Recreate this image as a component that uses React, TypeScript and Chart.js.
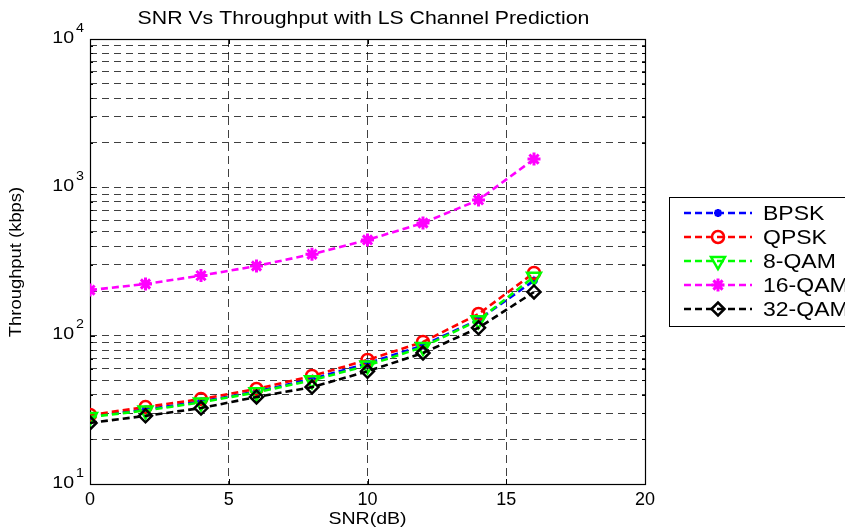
import { useEffect, useRef } from 'react';
import { Chart, registerables } from 'chart.js';
import { drawPoint } from 'chart.js/helpers';

Chart.register(...registerables);

const snr = [0, 2, 4, 6, 8, 10, 12, 14, 16];
const bpsk = [28.5, 31.8, 36, 42, 51, 65, 86, 128, 235];
const qpsk = [29.2, 33, 37.4, 43.7, 53.5, 68.6, 90.7, 140, 265];
const qam8 = [28.3, 31.3, 35.5, 41.5, 50, 63, 84, 127, 250];
const qam16 = [203, 223, 254, 295, 354, 442, 575, 822, 1550];
const qam32 = [25.8, 28.8, 32.5, 38.6, 45, 57.5, 76.4, 113, 197];
const seriesNames = ['BPSK', 'QPSK', '8-QAM', '16-QAM', '32-QAM'];
const xTickValues = [0, 5, 10, 15, 20];
const yMajorTicks = [10, 100, 1000, 10000];
const yTickBase = '10';
const yTickExponents = ['1', '2', '3', '4'];
const titleText = 'SNR Vs Throughput with LS Channel Prediction';
const xTitle = 'SNR(dB)';
const yTitle = 'Throughput (kbps)';

const FONT = "'Liberation Sans', Arial, Helvetica, sans-serif";

const styles = [
  { color: '#0000ff', pointStyle: 'star', radius: 4, rotation: 0, bw: 2.5 },
  { color: '#ff0000', pointStyle: 'circle', radius: 6, rotation: 0, bw: 2.5 },
  { color: '#00ff00', pointStyle: 'triangle', radius: 8, rotation: 180, bw: 2.5 },
  { color: '#ff00ff', pointStyle: 'star', radius: 6.5, rotation: 0, bw: 3 },
  { color: '#000000', pointStyle: 'rectRot', radius: 6.5, rotation: 0, bw: 2.5 },
];
const seriesValues = [bpsk, qpsk, qam8, qam16, qam32];

function stretchedText(ctx: CanvasRenderingContext2D, text: string, x: number, y: number, sx: number, align: CanvasTextAlign, rot = 0) {
  ctx.save();
  ctx.translate(x, y);
  if (rot) ctx.rotate(rot);
  ctx.scale(sx, 1);
  ctx.textAlign = align;
  ctx.textBaseline = 'middle';
  ctx.fillText(text, 0, 0);
  ctx.restore();
}

const decorPlugin = {
  id: 'decor',
  beforeDatasetsDraw(chart: any) {
    const { ctx, chartArea: a } = chart;
    const xs = chart.scales.x;
    const ys = chart.scales.y;
    ctx.save();
    ctx.strokeStyle = '#000';
    ctx.lineWidth = 1;
    ctx.setLineDash([]);
    ctx.beginPath();
    xTickValues.forEach((v) => {
      const px = Math.round(xs.getPixelForValue(v)) + 0.5;
      ctx.moveTo(px, a.bottom);
      ctx.lineTo(px, a.bottom - 5);
      ctx.moveTo(px, a.top);
      ctx.lineTo(px, a.top + 5);
    });
    ys.ticks.forEach((t: any) => {
      const py = Math.round(ys.getPixelForValue(t.value)) + 0.5;
      const len = yMajorTicks.includes(t.value) ? 5 : 3;
      ctx.moveTo(a.left, py);
      ctx.lineTo(a.left + len, py);
      ctx.moveTo(a.right, py);
      ctx.lineTo(a.right - len, py);
    });
    ctx.stroke();
    ctx.lineWidth = 1.2;
    ctx.strokeRect(Math.round(a.left) + 0.5, Math.round(a.top) + 0.5, Math.round(a.right - a.left), Math.round(a.bottom - a.top));
    ctx.restore();
  },
  afterDraw(chart: any) {
    const { ctx, chartArea: a } = chart;
    const ys = chart.scales.y;
    ctx.save();
    ctx.fillStyle = '#000';
    ctx.font = `19px ${FONT}`;
    stretchedText(ctx, titleText, (a.left + a.right) / 2 - 4, 19, 1.12, 'center');
    ctx.font = `17px ${FONT}`;
    stretchedText(ctx, xTitle, (a.left + a.right) / 2, 519, 1.15, 'center');
    ctx.font = `16px ${FONT}`;
    stretchedText(ctx, yTitle, 17, 262, 1.15, 'center', -Math.PI / 2);

    // y tick labels: base with raised exponent
    yMajorTicks.forEach((v, i) => {
      const py = ys.getPixelForValue(v);
      ctx.font = `17px ${FONT}`;
      stretchedText(ctx, yTickBase, 74, py - 1, 1.15, 'right');
      ctx.font = `13px ${FONT}`;
      stretchedText(ctx, yTickExponents[i], 76, py - 11, 1.1, 'left');
    });

    // legend
    const lx = 669.5, ly = 197.5, lw = 200, lh = 129;
    ctx.fillStyle = '#fff';
    ctx.fillRect(lx, ly, lw, lh);
    ctx.strokeStyle = '#000';
    ctx.lineWidth = 1;
    ctx.strokeRect(lx, ly, lw, lh);
    chart.data.datasets.forEach((ds: any, i: number) => {
      const st = styles[i];
      const y = 213 + 24 * i;
      ctx.save();
      ctx.strokeStyle = st.color;
      ctx.lineWidth = 2.5;
      ctx.setLineDash([7, 4]);
      ctx.beginPath();
      ctx.moveTo(684, y);
      ctx.lineTo(752, y);
      ctx.stroke();
      ctx.setLineDash([]);
      ctx.fillStyle = 'rgba(0,0,0,0)';
      ctx.lineWidth = st.bw;
      drawPoint(ctx, { pointStyle: st.pointStyle as any, rotation: st.rotation, radius: st.radius, borderWidth: st.bw }, 718, y);
      ctx.restore();
      ctx.fillStyle = '#000';
      ctx.font = `20px ${FONT}`;
      stretchedText(ctx, ds.label, 763, y + 1, 1.15, 'left');
    });
    ctx.restore();
  },
};

export default function App() {
  const ref = useRef<HTMLCanvasElement | null>(null);
  useEffect(() => {
    document.body.style.margin = '0';
    const canvas = ref.current!;
    const datasets = seriesValues.map((vals, i) => ({
      label: seriesNames[i],
      data: snr.map((x, j) => ({ x, y: vals[j] })),
      borderColor: styles[i].color,
      backgroundColor: 'rgba(0,0,0,0)',
      borderWidth: 2.6,
      borderDash: [7, 4],
      pointStyle: styles[i].pointStyle,
      pointRotation: styles[i].rotation,
      pointRadius: styles[i].radius,
      pointBorderWidth: styles[i].bw,
      pointBorderColor: styles[i].color,
      pointBackgroundColor: 'rgba(0,0,0,0)',
      tension: 0,
      fill: false,
      order: 4 - i,
    }));
    const chart = new Chart(canvas, {
      type: 'line',
      data: { datasets },
      plugins: [decorPlugin],
      options: {
        animation: false,
        responsive: false,
        devicePixelRatio: 1,
        layout: { padding: { left: 0, right: 200, top: 39, bottom: 0 } },
        plugins: { legend: { display: false }, title: { display: false }, tooltip: { enabled: false } },
        scales: {
          x: {
            type: 'linear',
            min: 0,
            max: 20,
            afterFit: (s: any) => { s.height = 45; },
            afterBuildTicks: (s: any) => { s.ticks = xTickValues.map((v) => ({ value: v })); },
            ticks: { font: { family: FONT, size: 18 }, color: '#000', padding: 5, maxRotation: 0, autoSkip: false, callback: (v: any) => String(v) },
            grid: { color: 'rgba(0,0,0,0.75)', lineWidth: 1, drawTicks: false },
            border: { display: false, dash: [8, 5] },
          },
          y: {
            type: 'logarithmic',
            min: 10,
            max: 10000,
            afterFit: (s: any) => { s.width = 90; },
            afterBuildTicks: (s: any) => {
              const t: any[] = [];
              for (let e = 1; e <= 3; e++) {
                for (let m = 1; m <= 9; m++) t.push({ value: m * Math.pow(10, e) });
              }
              t.push({ value: 10000 });
              s.ticks = t;
            },
            ticks: { display: false, autoSkip: false },
            grid: { color: 'rgba(0,0,0,0.75)', lineWidth: 1, drawTicks: false },
            border: { display: false, dash: [7, 5] },
          },
        },
      },
    });
    return () => chart.destroy();
  }, []);
  return (
    <div style={{ width: 845, height: 529 }}>
      <canvas ref={ref} width={845} height={529} style={{ display: 'block' }} />
    </div>
  );
}
